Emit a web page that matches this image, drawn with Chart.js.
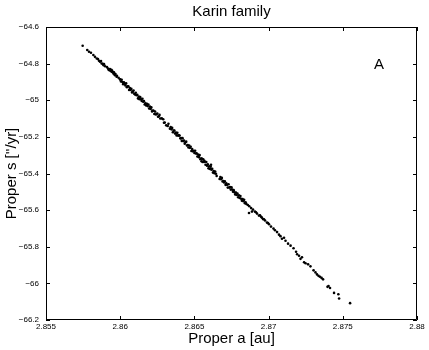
<!DOCTYPE html>
<html>
<head>
<meta charset="utf-8">
<script src="https://cdn.jsdelivr.net/npm/chart.js@4.4.0/dist/chart.umd.min.js"></script>
<style>
  html, body { margin: 0; padding: 0; background: #fff; }
</style>
</head>
<body>
<canvas id="chart" width="429" height="350"></canvas>
<script>
// Karin family: proper semimajor axis a [au] vs proper frequency s ["/yr]
const properA = [
  2.85747, 2.85778, 2.85790, 2.85803, 2.85819, 2.85830, 2.85842, 2.85850, 2.85857, 2.85864,
  2.85871, 2.85875, 2.85882, 2.85886, 2.85891, 2.85898, 2.85911, 2.85918, 2.85922, 2.85927,
  2.85931, 2.85936, 2.85940, 2.85943, 2.85945, 2.85950, 2.85954, 2.85958, 2.85962, 2.85965,
  2.85968, 2.85976, 2.85978, 2.85989, 2.85999,
  2.86000, 2.86005, 2.86010, 2.86015, 2.86020, 2.86025, 2.86030, 2.86035, 2.86040, 2.86045,
  2.86050, 2.86055, 2.86060, 2.86065, 2.86070, 2.86075, 2.86080, 2.86085, 2.86090, 2.86095,
  2.86100, 2.86105, 2.86110, 2.86115, 2.86120, 2.86125, 2.86130, 2.86135, 2.86140, 2.86145,
  2.86150, 2.86155, 2.86160, 2.86165, 2.86170, 2.86175, 2.86180, 2.86185, 2.86190, 2.86195,
  2.86200, 2.86205, 2.86210, 2.86215, 2.86220, 2.86225, 2.86230, 2.86235, 2.86240, 2.86245,
  2.86250, 2.86255, 2.86260, 2.86265, 2.86270, 2.86280, 2.86290, 2.86295,
  2.86300, 2.86310, 2.86320, 2.86325, 2.86335, 2.86340, 2.86345, 2.86350, 2.86355, 2.86360,
  2.86365, 2.86370, 2.86375, 2.86380, 2.86385, 2.86390, 2.86395,
  2.86400, 2.86405, 2.86410, 2.86415, 2.86420, 2.86425, 2.86430, 2.86435, 2.86440, 2.86445,
  2.86450, 2.86455, 2.86460, 2.86465, 2.86470, 2.86475, 2.86480, 2.86485, 2.86490, 2.86495,
  2.86500, 2.86505, 2.86510, 2.86515, 2.86520, 2.86525, 2.86530, 2.86532, 2.86535, 2.86540,
  2.86545, 2.86548, 2.86550, 2.86555, 2.86560, 2.86565, 2.86567, 2.86570, 2.86575, 2.86580,
  2.86585, 2.86590, 2.86595,
  2.86600, 2.86605, 2.86610, 2.86612, 2.86615, 2.86620, 2.86625, 2.86630, 2.86635, 2.86640,
  2.86645, 2.86650, 2.86670, 2.86675, 2.86680, 2.86685, 2.86690, 2.86695,
  2.86700, 2.86705, 2.86710, 2.86715, 2.86720, 2.86725, 2.86730, 2.86735, 2.86740, 2.86745,
  2.86750, 2.86755, 2.86760, 2.86765, 2.86770, 2.86775, 2.86780, 2.86785, 2.86790, 2.86795,
  2.86800, 2.86805, 2.86810, 2.86815, 2.86820, 2.86825, 2.86830, 2.86835, 2.86840, 2.86845,
  2.86850, 2.86860, 2.86868, 2.86870, 2.86882, 2.86888, 2.86895, 2.86908, 2.86915, 2.86922,
  2.86935, 2.86942, 2.86949, 2.86955, 2.86962, 2.86969, 2.86976, 2.86989, 2.86996, 2.87003,
  2.87016, 2.87033, 2.87043, 2.87057, 2.87070, 2.87080, 2.87090, 2.87104, 2.87114, 2.87131,
  2.87148, 2.87168, 2.87185, 2.87192, 2.87205, 2.87215, 2.87225, 2.87239, 2.87249, 2.87266,
  2.87282, 2.87303, 2.87316, 2.87326, 2.87336, 2.87346, 2.87357, 2.87367, 2.87397, 2.87404,
  2.87414, 2.87441, 2.87470, 2.87475, 2.87549
];

const properS = [
  -64.702, -64.726, -64.735, -64.741, -64.753, -64.763, -64.772, -64.775, -64.784, -64.790,
  -64.786, -64.799, -64.801, -64.808, -64.803, -64.814, -64.819, -64.827, -64.833, -64.836,
  -64.830, -64.840, -64.834, -64.845, -64.838, -64.846, -64.854, -64.847, -64.858, -64.863,
  -64.857, -64.872, -64.866, -64.877, -64.887,
  -64.885, -64.898, -64.888, -64.901, -64.912, -64.902, -64.910, -64.919, -64.908, -64.929,
  -64.924, -64.924, -64.944, -64.933, -64.944, -64.938, -64.957, -64.953, -64.947, -64.965,
  -64.968, -64.959, -64.973, -64.970, -64.990, -64.980, -64.994, -64.983, -64.995, -65.004,
  -64.992, -65.008, -65.005, -65.023, -65.016, -65.028, -65.019, -65.032, -65.023, -65.045,
  -65.035, -65.048, -65.039, -65.061, -65.056, -65.057, -65.075, -65.062, -65.078, -65.075,
  -65.072, -65.090, -65.088, -65.080, -65.100, -65.099, -65.104, -65.123,
  -65.122, -65.137, -65.141, -65.129, -65.155, -65.146, -65.159, -65.151, -65.175, -65.166,
  -65.165, -65.182, -65.177, -65.192, -65.178, -65.193, -65.191,
  -65.193, -65.208, -65.207, -65.222, -65.207, -65.223, -65.220, -65.237, -65.230, -65.226,
  -65.247, -65.245, -65.258, -65.247, -65.260, -65.254, -65.277, -65.266, -65.279, -65.276,
  -65.288, -65.276, -65.291, -65.290, -65.307, -65.296, -65.311, -65.303, -65.299, -65.322,
  -65.318, -65.333, -65.318, -65.337, -65.323, -65.337, -65.330, -65.336, -65.352, -65.337,
  -65.357, -65.350, -65.372,
  -65.360, -65.375, -65.363, -65.352, -65.379, -65.374, -65.395, -65.387, -65.398, -65.389,
  -65.401, -65.413, -65.430, -65.419, -65.431, -65.424, -65.444, -65.441,
  -65.449, -65.442, -65.462, -65.453, -65.462, -65.477, -65.459, -65.477, -65.474, -65.488,
  -65.476, -65.488, -65.499, -65.491, -65.503, -65.514, -65.504, -65.517, -65.509, -65.530,
  -65.519, -65.534, -65.523, -65.538, -65.549, -65.540, -65.551, -65.544, -65.562, -65.557,
  -65.566, -65.572, -65.616, -65.579, -65.589, -65.608, -65.597, -65.608, -65.612, -65.619,
  -65.630, -65.628, -65.636, -65.641, -65.649, -65.650, -65.657, -65.668, -65.670, -65.677,
  -65.690, -65.701, -65.710, -65.720, -65.734, -65.742, -65.756, -65.751, -65.767, -65.783,
  -65.794, -65.808, -65.827, -65.841, -65.849, -65.866, -65.857, -65.885, -65.890, -65.896,
  -65.907, -65.929, -65.940, -65.951, -65.959, -65.964, -65.970, -65.978, -66.019, -66.014,
  -66.025, -66.052, -66.059, -66.083, -66.108
];

const xTicks = [2.855, 2.86, 2.865, 2.87, 2.875, 2.88];
const yTicks = [-66.2, -66, -65.8, -65.6, -65.4, -65.2, -65, -64.8, -64.6];
const xTickLabels = ['2.855', '2.86', '2.865', '2.87', '2.875', '2.88'];
const yTickLabels = ['\u221266.2', '\u221266', '\u221265.8', '\u221265.6', '\u221265.4', '\u221265.2', '\u221265', '\u221264.8', '\u221264.6'];

const chartTitle = 'Karin family';
const panelLabel = { text: 'A', a: 2.87744, s: -64.805 };

const FONT = '"Liberation Sans", Arial, Helvetica, sans-serif';

// frame with inward ticks on all four sides, title over the plot area, panel letter
const boxPlugin = {
  id: 'boxPlugin',
  afterDatasetsDraw(chart) {
    const { ctx, chartArea: ca, scales: { x, y } } = chart;
    const len = 4;
    ctx.save();
    ctx.strokeStyle = '#000';
    ctx.lineWidth = 1;
    ctx.beginPath();
    ctx.rect(Math.round(ca.left) + 0.5, Math.round(ca.top) + 0.5,
             Math.round(ca.right - ca.left) - 1, Math.round(ca.bottom - ca.top) - 1);
    xTicks.forEach(v => {
      const px = Math.round(x.getPixelForValue(v)) + 0.5;
      ctx.moveTo(px, ca.bottom); ctx.lineTo(px, ca.bottom - len);
      ctx.moveTo(px, ca.top); ctx.lineTo(px, ca.top + len);
    });
    yTicks.forEach(v => {
      const py = Math.round(y.getPixelForValue(v)) + 0.5;
      ctx.moveTo(ca.left, py); ctx.lineTo(ca.left + len, py);
      ctx.moveTo(ca.right, py); ctx.lineTo(ca.right - len, py);
    });
    ctx.stroke();

    ctx.fillStyle = '#000';
    ctx.font = '15px ' + FONT;
    ctx.textAlign = 'center';
    ctx.textBaseline = 'middle';
    ctx.fillText(chartTitle, (ca.left + ca.right) / 2, 12);
    ctx.fillText(panelLabel.text, x.getPixelForValue(panelLabel.a), y.getPixelForValue(panelLabel.s));
    ctx.restore();
  }
};

new Chart(document.getElementById('chart'), {
  type: 'scatter',
  data: {
    datasets: [{
      data: properA.map((a, i) => ({ x: a, y: properS[i] })),
      pointRadius: 1.3,
      pointBorderWidth: 0,
      pointBackgroundColor: '#000',
      pointHoverRadius: 0
    }]
  },
  options: {
    responsive: false,
    animation: false,
    events: [],
    layout: { padding: { top: 27, right: 12 } },
    plugins: {
      legend: { display: false },
      tooltip: { enabled: false },
      title: { display: false }
    },
    scales: {
      x: {
        type: 'linear',
        min: 2.855,
        max: 2.88,
        afterBuildTicks: s => { s.ticks = xTicks.map(v => ({ value: v })); },
        afterFit: s => { s.height = 30; },
        grid: { display: false, drawTicks: false },
        border: { display: false },
        ticks: {
          autoSkip: false,
          maxRotation: 0,
          padding: 2,
          color: '#000',
          font: { family: FONT, size: 8 },
          callback: v => xTickLabels[xTicks.indexOf(+v.toFixed(3))]
        },
        title: {
          display: true,
          text: 'Proper a [au]',
          color: '#000',
          font: { family: FONT, size: 15 },
          padding: { top: 0, bottom: 2 }
        }
      },
      y: {
        type: 'linear',
        min: -66.2,
        max: -64.6,
        afterBuildTicks: s => { s.ticks = yTicks.map(v => ({ value: v })); },
        afterFit: s => { s.width = 46; },
        grid: { display: false, drawTicks: false },
        border: { display: false },
        ticks: {
          autoSkip: false,
          padding: 7,
          color: '#000',
          font: { family: FONT, size: 8 },
          callback: v => yTickLabels[yTicks.indexOf(+v.toFixed(1))]
        },
        title: {
          display: true,
          text: "Proper s [''/yr]",
          color: '#000',
          font: { family: FONT, size: 15 },
          padding: { top: 3, bottom: 0 }
        }
      }
    }
  },
  plugins: [boxPlugin]
});
</script>
</body>
</html>
